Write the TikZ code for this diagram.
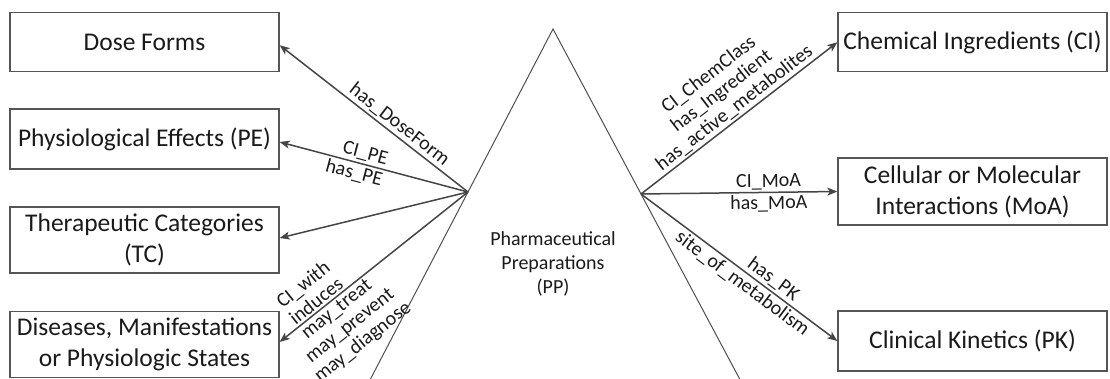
\documentclass[tikz,border=0pt]{standalone}
\usepackage{fontspec}
\setmainfont{Carlito}
\usetikzlibrary{arrows.meta,calc}
\definecolor{boxline}{HTML}{555555}
\definecolor{linegray}{HTML}{454545}
\definecolor{trigray}{HTML}{505050}
\definecolor{txt}{HTML}{1A1A1A}
\begin{document}
\begin{tikzpicture}[x=1pt,y=1pt,
  box/.style={draw=boxline, line width=1.3pt, minimum width=269pt, inner sep=0pt,
    align=center, text=txt, font=\fontsize{25.5}{31}\selectfont},
  rel/.style={draw=linegray, line width=1.5pt, -{Stealth[length=10pt,width=8pt,inset=2.5pt]}},
  lbl/.style={font=\fontsize{20}{21}\selectfont, text=txt, sloped, align=center, inner sep=2pt},
]
\useasboundingbox (0,-379) rectangle (1110,0);
\clip (0,-379) rectangle (1110,0);

% concept boxes, left column
\node[box, minimum height=59pt] (dose) at (144.5,-42.2) {Dose Forms};
\node[box, minimum height=60pt] (pe)   at (144.5,-139)  {Physiological Effects (PE)};
\node[box, minimum height=66pt] (tc)   at (144.5,-240)  {Therapeutic Categories\\(TC)};
\node[box, minimum height=66pt] (dis)  at (144.5,-344.5) {Diseases, Manifestations\\or Physiologic States};

% concept boxes, right column
\node[box, minimum height=59pt] (ci)  at (972.5,-42.3) {Chemical Ingredients (CI)};
\node[box, minimum height=67pt] (moa) at (972.5,-191.5) {Cellular or Molecular\\Interactions (MoA)};
\node[box, minimum height=60pt] (pk)  at (972.5,-341) {Clinical Kinetics (PK)};

% central triangle with the two hub points on its sides
\coordinate (apex) at (553,-29);
\coordinate (L) at (468,-192);
\coordinate (R) at (641,-194);
\draw[trigray, line width=1pt] ($(apex)!2.6!(L)$) -- (apex) -- ($(apex)!2.6!(R)$);
\node[font=\fontsize{20}{24}\selectfont, text=txt, align=center] (pp) at (553,-264)
  {Pharmaceutical\\Preparations\\(PP)};

% relations to the left
\draw[rel] (L) -- node[lbl, above, pos=0.40] {has\_DoseForm} ([yshift=-3pt]dose.east);
\draw[rel] (L) -- node[lbl, above, pos=0.56] {CI\_PE}
                  node[lbl, below, pos=0.59] {has\_PE} ([yshift=-3pt]pe.east);
\draw[rel] (L) -- ([yshift=2pt]tc.east);
\draw[rel] (L) -- node[lbl, above, pos=0.775] {CI\_with\\induces}
                  node[lbl, below, pos=0.73] {may\_treat\\may\_prevent\\may\_diagnose}
                  ([yshift=2.5pt]dis.east);

% relations to the right
\draw[rel] (R) -- node[lbl, above, pos=0.51] {CI\_ChemClass\\has\_Ingredient\\has\_active\_metabolites} (ci.west);
\draw[rel] (R) -- node[lbl, above, pos=0.65] {CI\_MoA}
                  node[lbl, below, pos=0.65] {has\_MoA} (moa.west);
\draw[rel] (R) -- node[lbl, above, pos=0.64] {has\_PK}
                  node[lbl, below, pos=0.55] {site\_of\_metabolism} (pk.west);
\end{tikzpicture}
\end{document}
